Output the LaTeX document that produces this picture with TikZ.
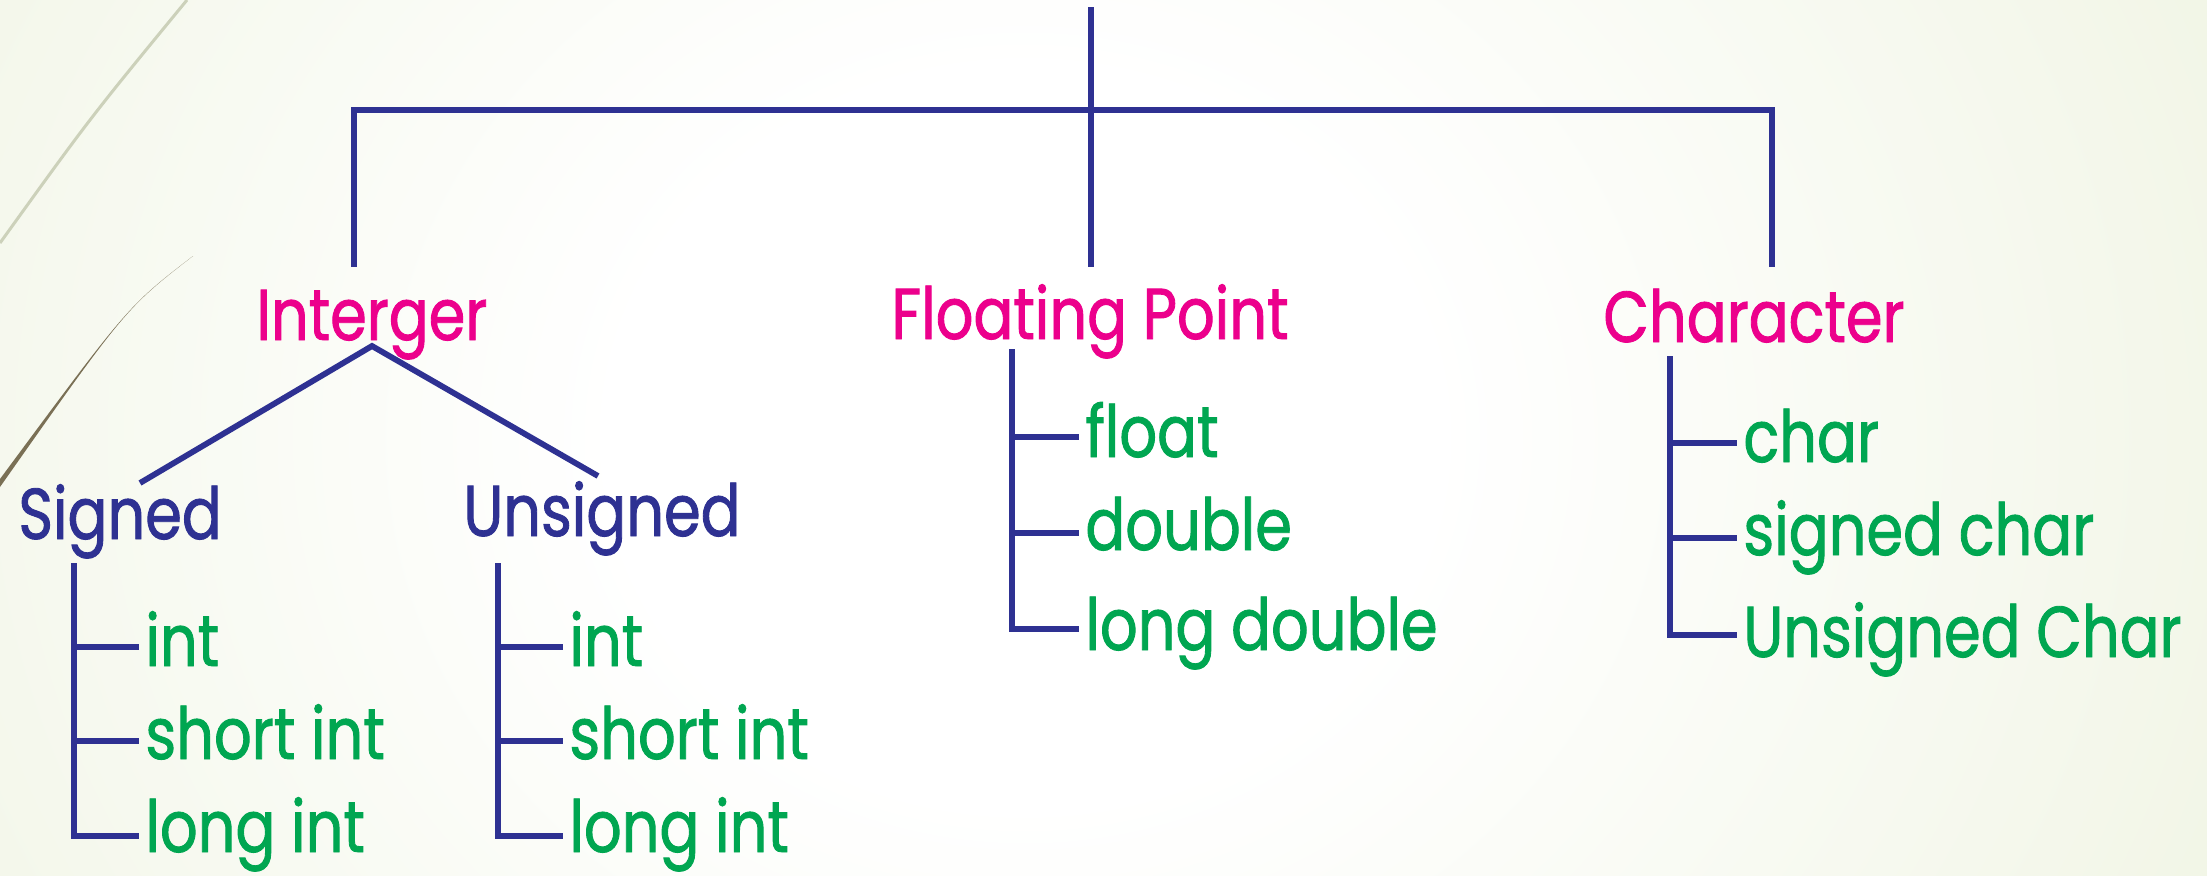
\documentclass[tikz,border=0pt]{standalone}
\usepackage{fontspec}
\setmainfont{Poppins}[FakeStretch=0.82, FakeBold=1.2]
\usetikzlibrary{calc}
\definecolor{pinkc}{RGB}{236,0,140}
\definecolor{bluec}{RGB}{46,49,146}
\definecolor{greenc}{RGB}{0,166,81}
\definecolor{bgg}{RGB}{224,233,198}
\definecolor{arcl}{RGB}{204,209,186}
\definecolor{arcd}{RGB}{122,112,85}
\pgfdeclareradialshading{bgshade}{\pgfpoint{0bp}{0bp}}{color(0bp)=(white); color(8bp)=(white); color(48bp)=(bgg); color(80bp)=(bgg)}
\tikzset{
  lbl/.style={inner xsep=3pt, inner ysep=0pt, anchor=base west, font=\fontsize{36pt}{40pt}\selectfont},
  cat/.style={lbl, text=pinkc},
  sub/.style={lbl, text=bluec},
  leaf/.style={lbl, text=greenc},
  trunk/.style={draw=bluec, line width=2.6pt},
  barline/.style={draw=bluec, line width=3.4pt, line cap=rect},
  branch/.style={draw=bluec, line width=2.9pt, line join=miter},
}
\begin{document}
\begin{tikzpicture}[x=0.5pt, y=-0.5pt]
% background
\begin{scope}
  \clip (0,0) rectangle (2207,875);
  \shade[shading=bgshade] (-250,-700) rectangle (2300,1575);
\end{scope}
\useasboundingbox (0,0) rectangle (2207,875);
% decorative arcs
\draw[arcl, line width=1.5pt] (187,0) .. controls (90,118) .. (0,243);
\fill[arcd] (193,256) .. controls (128,306) .. (0,479) -- (0,487) .. controls (126,308) .. (193,256) -- cycle;

% labels
\node[cat] (intg) at (250,340) {Interger};
\node[cat] (fp) at (885,339) {Floating Point};
\node[cat] (chr) at (1597,342) {Character};
\node[sub] (sgn) at (12,539) {Signed};
\node[sub] (usg) at (457,536) {Unsigned};
\node[leaf] (s1) at (139,666) {int};
\node[leaf] (s2) at (139,759) {short int};
\node[leaf] (s3) at (139,852) {long int};
\node[leaf] (u1) at (563,666) {int};
\node[leaf] (u2) at (563,759) {short int};
\node[leaf] (u3) at (563,852) {long int};
\node[leaf] (f1) at (1079,457) {float};
\node[leaf] (f2) at (1079,550) {double};
\node[leaf] (f3) at (1079,650) {long double};
\node[leaf] (c1) at (1737,462) {char};
\node[leaf] (c2) at (1737,555) {signed char};
\node[leaf] (c3) at (1737,657) {Unsigned Char};

% top bracket
\coordinate (root) at (1091,7);
\coordinate (barL) at (354,110);
\coordinate (barR) at (1772,110);
\coordinate (fpTop) at (1091,267);
\coordinate (intTop) at (354,267);
\coordinate (chrTop) at (1772,267);
\draw[barline] (barL) -- (barR);
\draw[trunk] (root) -- (fpTop);
\draw[trunk] (barL) -- (intTop);
\draw[trunk] (barR) -- (chrTop);

% Interger split
\coordinate (apex) at (372,346);
\coordinate (sgnTop) at (140,483);
\coordinate (usgTop) at (598,476);
\draw[branch] (sgnTop) -- (apex) -- (usgTop);

% Signed
\coordinate (sv0) at (74,563);
\coordinate (sv1) at (74,647);
\coordinate (sv2) at (74,741);
\coordinate (sv3) at (74,836);
\draw[branch] (sv0) -- (sv3) -- (sv3 -| s3.west);
\draw[branch] (sv1) -- (sv1 -| s1.west);
\draw[branch] (sv2) -- (sv2 -| s2.west);

% Unsigned
\coordinate (uv0) at (498,563);
\coordinate (uv1) at (498,647);
\coordinate (uv2) at (498,741);
\coordinate (uv3) at (498,836);
\draw[branch] (uv0) -- (uv3) -- (uv3 -| u3.west);
\draw[branch] (uv1) -- (uv1 -| u1.west);
\draw[branch] (uv2) -- (uv2 -| u2.west);

% Floating point
\coordinate (fv0) at (1012,349);
\coordinate (fv1) at (1012,437);
\coordinate (fv2) at (1012,533);
\coordinate (fv3) at (1012,629);
\draw[branch] (fv0) -- (fv3) -- (fv3 -| f3.west);
\draw[branch] (fv1) -- (fv1 -| f1.west);
\draw[branch] (fv2) -- (fv2 -| f2.west);

% Character
\coordinate (cv0) at (1670,356);
\coordinate (cv1) at (1670,443);
\coordinate (cv2) at (1670,538);
\coordinate (cv3) at (1670,635);
\draw[branch] (cv0) -- (cv3) -- (cv3 -| c3.west);
\draw[branch] (cv1) -- (cv1 -| c1.west);
\draw[branch] (cv2) -- (cv2 -| c2.west);
\end{tikzpicture}
\end{document}
